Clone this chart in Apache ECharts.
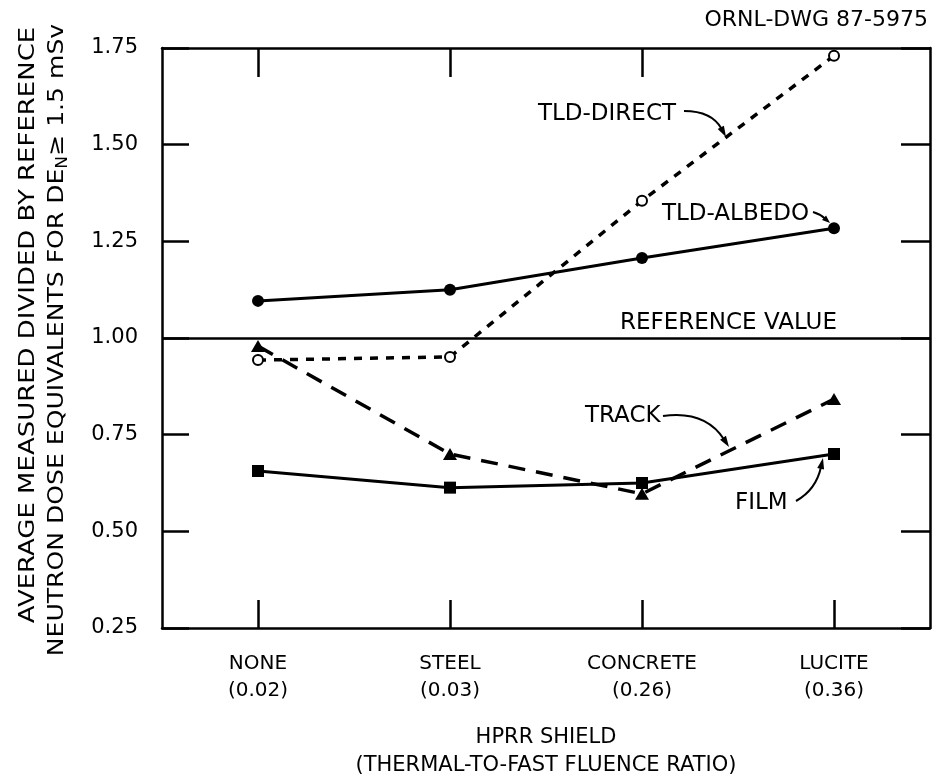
<!DOCTYPE html>
<html><head><meta charset="utf-8">
<script src="https://cdn.jsdelivr.net/npm/echarts@6/dist/echarts.min.js"></script>
<style>html,body{margin:0;padding:0;background:#fff}#c{width:935px;height:776px}</style>
</head><body><div id="c"></div>
<script>
// ---- data ----
const categories = ['NONE', 'STEEL', 'CONCRETE', 'LUCITE'];
const fluenceRatios = ['(0.02)', '(0.03)', '(0.26)', '(0.36)'];
const tldDirect = [0.943, 0.951, 1.355, 1.730];
const tldAlbedo = [1.096, 1.125, 1.207, 1.284];
const track = [0.979, 0.700, 0.597, 0.842];
const film = [0.656, 0.613, 0.625, 0.700];
const referenceValue = 1.00;
const yTicks = [0.25, 0.50, 0.75, 1.00, 1.25, 1.50, 1.75];

const FONT = 'DejaVu Sans';
const INK = '#000';

const chart = echarts.init(document.getElementById('c'), null, {renderer: 'canvas'});

function arrow(x1, y1, cx, cy, x2, y2, len, w) {
  len = len || 11; w = w || 3.5;
  const dx = x2 - cx, dy = y2 - cy, L = Math.hypot(dx, dy), ux = dx / L, uy = dy / L;
  const bx = x2 - ux * len, by = y2 - uy * len;
  return [
    {type: 'bezierCurve', shape: {x1: x1, y1: y1, x2: bx + ux * 2, y2: by + uy * 2, cpx1: cx, cpy1: cy},
     style: {stroke: INK, lineWidth: 2, fill: null}, z: 50},
    {type: 'polygon', shape: {points: [[x2, y2], [bx - uy * w, by + ux * w], [bx + uy * w, by - ux * w]]},
     style: {fill: INK}, z: 50}
  ];
}
function label(text, x, y, size) {
  return {type: 'text', x: x, y: y, z: 50,
    style: {text: text, fontFamily: FONT, fontSize: size || 23, fill: INK,
      textAlign: 'left', textVerticalAlign: 'middle', verticalAlign: 'middle'}};
}

const axisLineStyle = {color: INK, width: 2.5};
const yMin = yTicks[0], yMax = yTicks[yTicks.length - 1], yStep = yTicks[1] - yTicks[0];

const option = {
  animation: false,
  backgroundColor: '#fff',
  grid: {left: 162, right: 5, top: 48, bottom: 148, containLabel: false, outerBoundsMode: 'none'},
  xAxis: [{
    type: 'category', data: categories, boundaryGap: true, position: 'bottom',
    axisLine: {show: true, lineStyle: axisLineStyle},
    axisTick: {show: true, inside: true, alignWithLabel: true, length: 28, lineStyle: {color: INK, width: 2.5}},
    axisLabel: {
      margin: 22, color: INK, fontFamily: FONT, fontSize: 20, lineHeight: 27,
      formatter: function (v, i) { return v + '\n' + fluenceRatios[i]; }
    },
    splitLine: {show: false},
    name: 'HPRR SHIELD\n(THERMAL-TO-FAST FLUENCE RATIO)',
    nameLocation: 'middle', nameGap: 96,
    nameTextStyle: {color: INK, fontFamily: FONT, fontSize: 21, lineHeight: 28}
  }, {
    type: 'category', data: categories, boundaryGap: true, position: 'top',
    axisLine: {show: true, lineStyle: axisLineStyle},
    axisTick: {show: true, inside: true, alignWithLabel: true, length: 29,
      interval: function (i) { return i < 3; }, lineStyle: {color: INK, width: 2.5}},
    axisLabel: {show: false}, splitLine: {show: false}
  }],
  yAxis: [{
    type: 'value', min: yMin, max: yMax, interval: yStep, position: 'left',
    axisLine: {show: true, lineStyle: axisLineStyle},
    axisTick: {show: true, inside: true, length: 27, lineStyle: {color: INK, width: 2.5}},
    axisLabel: {margin: 24, color: INK, fontFamily: FONT, fontSize: 21,
      formatter: function (v) { return v.toFixed(2); }},
    splitLine: {show: false}
  }, {
    type: 'value', min: yMin, max: yMax, interval: yStep, position: 'right',
    axisLine: {show: true, lineStyle: axisLineStyle},
    axisTick: {show: true, inside: true, length: 29, lineStyle: {color: INK, width: 2.5}},
    axisLabel: {show: false}, splitLine: {show: false}
  }],
  series: [{
    name: 'TLD-DIRECT', type: 'line', data: tldDirect, z: 3,
    symbol: 'circle', symbolSize: 10, showAllSymbol: true,
    itemStyle: {color: '#fff', borderColor: INK, borderWidth: 2},
    lineStyle: {color: INK, width: 3.5, type: [8, 8]},
    markLine: {
      silent: true, symbol: 'none', label: {show: false},
      lineStyle: {color: INK, width: 2.5, type: 'solid'},
      data: [{yAxis: referenceValue}]
    }
  }, {
    name: 'TLD-ALBEDO', type: 'line', data: tldAlbedo, z: 4,
    symbol: 'circle', symbolSize: 12,
    itemStyle: {color: INK}, lineStyle: {color: INK, width: 3}
  }, {
    name: 'TRACK', type: 'line', data: track, z: 4,
    symbol: 'triangle', symbolSize: [14, 12],
    itemStyle: {color: INK}, lineStyle: {color: INK, width: 3.5, type: [17, 11]}
  }, {
    name: 'FILM', type: 'line', data: film, z: 4,
    symbol: 'rect', symbolSize: 12,
    itemStyle: {color: INK}, lineStyle: {color: INK, width: 3}
  }],
  graphic: [].concat(
    [{type: 'text', x: 928, y: 20, z: 50,
      style: {text: 'ORNL-DWG 87-5975', fontFamily: FONT, fontSize: 22, fill: INK,
        textAlign: 'right', textVerticalAlign: 'middle', verticalAlign: 'middle'}}],
    [{type: 'text', x: 28, y: 325, rotation: Math.PI / 2, scaleX: 1.18, z: 50,
      style: {text: 'AVERAGE MEASURED DIVIDED BY REFERENCE', fontFamily: FONT, fontSize: 22, fill: INK,
        textAlign: 'center', textVerticalAlign: 'middle', verticalAlign: 'middle'}},
     {type: 'text', x: 57, y: 340, rotation: Math.PI / 2, scaleX: 1.14, z: 50,
      style: {text: '{a|NEUTRON DOSE EQUIVALENTS FOR DE}{s|N}{a|≥ 1.5 mSv}',
        textAlign: 'center', textVerticalAlign: 'middle', verticalAlign: 'middle',
        rich: {a: {fontFamily: FONT, fontSize: 22, lineHeight: 28, fill: INK, color: INK, verticalAlign: 'middle'},
               s: {fontFamily: FONT, fontSize: 15, lineHeight: 28, fill: INK, color: INK, verticalAlign: 'bottom'}}}}],
    [label('TLD-DIRECT', 538, 114), label('TLD-ALBEDO', 662, 214), label('REFERENCE VALUE', 620, 323),
     label('TRACK', 585, 416), label('FILM', 735, 503)],
    arrow(684, 111, 712, 111, 726, 137),
    arrow(813, 212, 820, 214, 830, 223, 8, 3),
    arrow(663, 416, 705, 410, 729, 447),
    arrow(796, 501, 816, 490, 823, 458)
  )
};
chart.setOption(option);
</script>
</body></html>
